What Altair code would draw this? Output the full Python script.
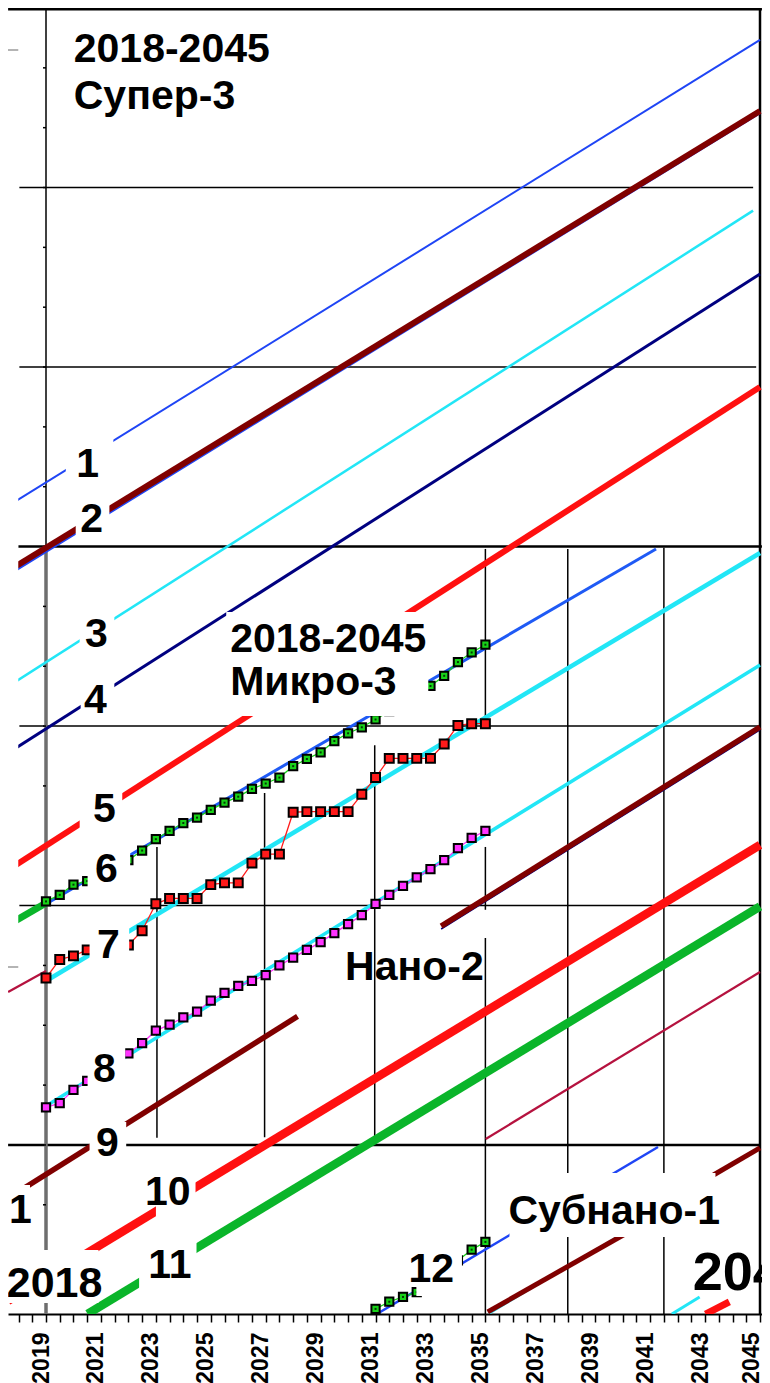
import altair as alt
import pandas as pd

# ---------------- scales (x = year, y = log10 performance, decades) ----------------
X_DOMAIN = [2017.6162, 2045.0727]
Y_DOMAIN = [0.175, 22.0]
W, H = 754, 1306

TICK_YEARS = [2018 + 0.5 * i for i in range(55)]

# ---------------- horizontal grid lines ----------------
GRID_VALUE = [21.98, 19, 16, 13, 10, 7, 3]
GRID_START = [2017.62, 2018.03, 2018.03, 2017.99, 2018.03, 2018.03, 2017.62]
GRID_END = [2045.07, 2044.75, 2044.86, 2045.07, 2045.0, 2045.0, 2045.0]
GRID_KIND = ["major", "minor", "minor", "major", "minor", "minor", "major"]

# ---------------- vertical year lines ----------------
VERT_YEAR = [2019.0, 2019.0, 2023.04, 2026.96, 2030.97, 2035.0, 2035.0, 2035.0, 2038.0, 2041.5, 2045.0]
VERT_TOP = [21.98, 13.0, 7.98, 8.88, 9.68, 12.96, 7.98, 6.46, 12.96, 12.98, 21.98]
VERT_BOTTOM = [13.0, 0.175, 3.12, 3.13, 3.08, 9.99, 6.93, 0.175, 0.175, 0.175, 0.175]
VERT_KIND = ["thin", "axis", "thin", "thin", "thin", "thin", "thin", "thin", "thin", "thin", "border"]

YTICK_VALUES = list(range(1, 22))

# ---------------- trend lines: id, start year, start value, end year, end value ----------------
TREND_ID = ["1", "2b", "2", "3", "4", "5", "gl", "cl", "6", "7", "8", "9n", "9a", "9b",
            "10", "11", "c", "12", "sc", "sa", "sb", "cb", "rb"]
TREND_X1 = [2017.62, 2017.62, 2017.62, 2017.62, 2017.62, 2017.62, 2017.62, 2017.62, 2019.0, 2019.0,
            2019.0, 2033.389, 2017.62, 2033.389, 2017.62, 2020.515, 2035.012, 2031.045, 2035.12,
            2035.084, 2043.306, 2041.791, 2043.017]
TREND_Y1 = [13.678, 12.525, 12.592, 10.662, 9.550, 7.595, 6.676, 5.557, 7.027, 5.740,
            3.651, 6.609, 2.111, 6.656, 0.393, 0.175, 3.100, 0.175, 0.175,
            0.209, 2.498, 0.175, 0.175]
TREND_X2 = [2045.0, 2045.0, 2045.0, 2044.748, 2045.0, 2045.0, 2019.0, 2019.0, 2041.214, 2045.0,
            2045.0, 2045.0, 2028.160, 2045.0, 2045.0, 2045.0, 2045.0, 2041.286, 2040.277,
            2040.277, 2045.0, 2042.801, 2043.883]
TREND_Y2 = [21.466, 20.246, 20.279, 18.613, 17.555, 15.667, 7.044, 5.907, 12.960, 12.893,
            11.021, 9.935, 5.149, 9.985, 8.013, 6.985, 5.891, 2.966, 1.596,
            1.5625, 2.950, 0.460, 0.376]

TREND_STYLE = {
    "1": ("#1f45f5", 2.0), "2b": ("#1f45f5", 2.5), "2": ("#800000", 6.0),
    "3": ("#22e6f6", 2.5), "4": ("#000080", 3.0), "5": ("#ff1010", 6.0),
    "gl": ("#0ab52a", 7.0), "cl": ("#b5123f", 2.2),
    "6": ("#1f5af5", 3.0), "7": ("#22e6f6", 4.5), "8": ("#22e6f6", 3.5),
    "9n": ("#000080", 1.5), "9a": ("#800000", 5.5), "9b": ("#800000", 5.5),
    "10": ("#ff1010", 8.5), "11": ("#0ab52a", 8.5), "c": ("#b5123f", 2.2),
    "12": ("#1f45f5", 2.5), "sc": ("#22e6f6", 2.0), "sa": ("#800000", 5.0),
    "sb": ("#800000", 5.0), "cb": ("#22e6f6", 3.0), "rb": ("#ff1010", 7.0),
}

# ---------------- half-yearly series with square markers ----------------
HALF_YEARS = [2019.0, 2019.5, 2020.0, 2020.5, 2021.0, 2021.5, 2022.0, 2022.5, 2023.0, 2023.5,
              2024.0, 2024.5, 2025.0, 2025.5, 2026.0, 2026.5, 2027.0, 2027.5, 2028.0, 2028.5,
              2029.0, 2029.5, 2030.0, 2030.5, 2031.0, 2031.5, 2032.0, 2032.5, 2033.0, 2033.5,
              2034.0, 2034.5, 2035.0]
GREEN6 = [7.07, 7.18, 7.35, 7.41, 7.53, 7.65, 7.76, 7.92, 8.11, 8.25, 8.38, 8.47, 8.60, 8.72,
          8.82, 8.95, 9.04, 9.14, 9.33, 9.45, 9.56, 9.75, 9.88, 9.98, 10.11, 10.25, 10.39,
          10.53, 10.67, 10.84, 11.07, 11.23, 11.36]
RED7 = [5.79, 6.10, 6.16, 6.26, 6.26, 6.30, 6.34, 6.58, 7.03, 7.12, 7.12, 7.12, 7.35, 7.38,
        7.38, 7.71, 7.86, 7.86, 8.56, 8.57, 8.57, 8.57, 8.57, 8.86, 9.14, 9.46, 9.46, 9.46,
        9.46, 9.70, 10.01, 10.04, 10.04]
MAGENTA8 = [3.63, 3.70, 3.92, 4.07, 4.24, 4.39, 4.53, 4.70, 4.91, 5.01, 5.13, 5.23, 5.41, 5.54,
            5.66, 5.74, 5.84, 6.00, 6.13, 6.26, 6.39, 6.54, 6.69, 6.84, 7.03, 7.18, 7.33, 7.47,
            7.61, 7.76, 7.96, 8.13, 8.25]
GREEN12_YEARS = [2031.0, 2031.5, 2032.0, 2032.5, 2033.0, 2033.5, 2034.0, 2034.5, 2035.0]
GREEN12 = [0.26, 0.38, 0.46, 0.54, 0.72, 0.90, 1.07, 1.25, 1.38]

SERIES_STYLE = {"6": "#19d219", "7": "#ff1a1a", "8": "#ff33ff", "12": "#19d219"}

# ---------------- label backgrounds (white) ----------------
BOX_X1 = [2019.721, 2020.082, 2020.226, 2020.262, 2020.226, 2020.515, 2020.587, 2020.515,
          2020.587, 2023.003, 2022.390, 2032.487, 2017.50, 2017.50, 2025.563, 2035.877]
BOX_X2 = [2021.452, 2021.308, 2021.488, 2021.488, 2021.777, 2022.065, 2022.029, 2021.885,
          2021.921, 2024.445, 2024.481, 2034.146, 2020.911, 2018.417, 2032.920, 2043.378]
BOX_Y1 = [14.815, 13.812, 11.907, 10.804, 9.016, 7.980, 6.693, 4.671, 3.384, 2.548, 1.446,
          1.245, 1.245, 2.331, 11.907, 2.532]
BOX_Y2 = [14.029, 13.110, 11.188, 10.135, 8.230, 7.228, 5.958, 3.885, 2.615, 1.780, 0.610,
          0.476, 0.359, 1.496, 10.169, 1.462]

# left legend frame (its body lies left of the visible area)
FRAME_X = [2017.50, 2017.99]
FRAME_TOP, FRAME_BOTTOM = 21.298, 5.974

# ---------------- texts ----------------
NUM_TEXT = ["1", "2", "3", "4", "5", "6", "7", "8", "9", "10", "11", "12"]
NUM_X = [2020.515, 2020.659, 2020.839, 2020.803, 2021.128, 2021.200, 2021.272, 2021.128,
         2021.236, 2023.436, 2023.508, 2033.028]
NUM_Y = [14.163, 13.244, 11.322, 10.219, 8.397, 7.395, 6.125, 4.052, 2.816, 1.997, 0.777, 0.710]

TITLE_TEXT = ["2018-2045", "Супер-3", "2018-2045", "Микро-3", "Нано-2", "Субнано-1"]
TITLE_X = [2020.010, 2020.010, 2025.708, 2025.708, 2029.891, 2035.841]
TITLE_Y = [21.098, 20.313, 11.238, 10.520, 5.757, 1.679]

LEFT_TEXT = ["1"]
LEFT_X = [2017.6526]
LEFT_Y = [1.696]
BIG_LEFT_TEXT = ["2018"]
BIG_LEFT_X = [2021.0555]
BIG_LEFT_Y = [0.460]
RIGHT_TEXT = ["2045"]
RIGHT_X = [2042.548]
RIGHT_Y = [0.577]

# ================= build =================
XS = alt.Scale(domain=X_DOMAIN, nice=False, zero=False)
YS = alt.Scale(domain=Y_DOMAIN, nice=False, zero=False)
AX = alt.Axis(values=TICK_YEARS,
              labelExpr="datum.value % 2 == 1 ? toString(datum.value) : ''",
              labelAngle=270, labelAlign="right", labelBaseline="middle",
              labelFont="Liberation Sans", labelFontSize=23, labelFontWeight="bold",
              labelColor="black", labelPadding=10,
              labelOffset={"condition": {"test": "datum.value >= 2045", "value": -9}, "value": -5},
              labelOverlap=False, labelFlush=False,
              tickSize=8, tickWidth=1.5, tickColor="black",
              domainColor="black", domainWidth=2, grid=False, title=None)


def X(f):
    return alt.X(f, type="quantitative", scale=XS, axis=AX)


def Y(f):
    return alt.Y(f, type="quantitative", scale=YS, axis=None)


FONT = "Liberation Sans"

grid_df = pd.DataFrame({"v": GRID_VALUE, "x1": GRID_START, "x2": GRID_END, "kind": GRID_KIND})
grid_df["w"] = grid_df["kind"].map({"major": 2.5, "minor": 1.5})
grid = alt.Chart(grid_df).mark_rule(color="black", clip=True).encode(
    x=X("x1"), x2="x2", y=Y("v"), strokeWidth=alt.StrokeWidth("w:Q", scale=None))

vert_df = pd.DataFrame({"x": VERT_YEAR, "t": VERT_TOP, "b": VERT_BOTTOM, "kind": VERT_KIND})
vert_df["w"] = vert_df["kind"].map({"thin": 1.5, "axis": 3.5, "border": 2.5})
vert_df["c"] = vert_df["kind"].map({"thin": "black", "axis": "#6e6e6e", "border": "black"})
verts = alt.Chart(vert_df).mark_rule(clip=True).encode(
    x=X("x"), y=Y("t"), y2="b",
    strokeWidth=alt.StrokeWidth("w:Q", scale=None), color=alt.Color("c:N", scale=None))

ytick_df = pd.DataFrame({"v": YTICK_VALUES})
ytick_df["x1"] = 2018.89
ytick_df["x2"] = 2019.0
yticks = alt.Chart(ytick_df).mark_rule(color="black", strokeWidth=1.5, clip=True).encode(
    x=X("x1"), x2="x2", y=Y("v"))

trend_df = pd.DataFrame({"id": TREND_ID, "x1": TREND_X1, "y1": TREND_Y1, "x2": TREND_X2, "y2": TREND_Y2})
trend_df["c"] = trend_df["id"].map(lambda k: TREND_STYLE[k][0])
trend_df["w"] = trend_df["id"].map(lambda k: TREND_STYLE[k][1])
trends = alt.Chart(trend_df).mark_rule(clip=True).encode(
    x=X("x1"), x2="x2", y=Y("y1"), y2="y2",
    color=alt.Color("c:N", scale=None), strokeWidth=alt.StrokeWidth("w:Q", scale=None))

rows = []
for sid, years, vals in [("6", HALF_YEARS, GREEN6), ("7", HALF_YEARS, RED7),
                         ("8", HALF_YEARS, MAGENTA8), ("12", GREEN12_YEARS, GREEN12)]:
    for yr, v in zip(years, vals):
        rows.append({"s": sid, "year": yr, "v": v, "c": SERIES_STYLE[sid]})
ser_df = pd.DataFrame(rows)

ser_lines = alt.Chart(ser_df).mark_line(strokeWidth=1.3, clip=True).encode(
    x=X("year"), y=Y("v"), detail="s:N", color=alt.Color("c:N", scale=None))
ser_pts_small = alt.Chart(ser_df[ser_df["s"] != "7"]).mark_square(
    size=68, stroke="black", strokeWidth=2, opacity=1, clip=True).encode(
    x=X("year"), y=Y("v"), fill=alt.Fill("c:N", scale=None))
ser_pts_red = alt.Chart(ser_df[ser_df["s"] == "7"]).mark_square(
    size=80, stroke="black", strokeWidth=2, opacity=1, clip=True).encode(
    x=X("year"), y=Y("v"), fill=alt.Fill("c:N", scale=None))
green_dots = alt.Chart(ser_df[ser_df["c"] == "#19d219"]).mark_square(
    size=4, color="#063806", opacity=1, clip=True).encode(x=X("year"), y=Y("v"))

box_df = pd.DataFrame({"x1": BOX_X1, "x2": BOX_X2, "y1": BOX_Y1, "y2": BOX_Y2})
boxes = alt.Chart(box_df).mark_rect(color="white", opacity=1, clip=True).encode(
    x=X("x1"), x2="x2", y=Y("y1"), y2="y2")

frame_df = pd.DataFrame({"x1": [FRAME_X[0]], "x2": [FRAME_X[1]], "y1": [FRAME_TOP], "y2": [FRAME_BOTTOM]})
frame_fill = alt.Chart(frame_df).mark_rect(color="white", opacity=1, clip=True).encode(
    x=X("x1"), x2="x2", y=Y("y1"), y2="y2")
frame_edges_df = pd.DataFrame({"x1": [FRAME_X[0]] * 2, "x2": [FRAME_X[1]] * 2,
                               "v": [FRAME_TOP, FRAME_BOTTOM]})
frame_edges = alt.Chart(frame_edges_df).mark_rule(color="#b4b4b4", strokeWidth=2, clip=True).encode(
    x=X("x1"), x2="x2", y=Y("v"))

num_df = pd.DataFrame({"t": NUM_TEXT, "x": NUM_X, "v": NUM_Y})
nums = alt.Chart(num_df).mark_text(font=FONT, fontWeight="bold", fontSize=41, align="center",
                                   baseline="alphabetic", color="black", clip=True).encode(
    x=X("x"), y=Y("v"), text="t:N")

title_df = pd.DataFrame({"t": TITLE_TEXT, "x": TITLE_X, "v": TITLE_Y})
titles = alt.Chart(title_df).mark_text(font=FONT, fontWeight="bold", fontSize=41, align="left",
                                       baseline="alphabetic", color="black", clip=True).encode(
    x=X("x"), y=Y("v"), text="t:N")

left_df = pd.DataFrame({"t": LEFT_TEXT, "x": LEFT_X, "v": LEFT_Y})
left_txt = alt.Chart(left_df).mark_text(font=FONT, fontWeight="bold", fontSize=41, align="left",
                                        baseline="alphabetic", color="black", clip=True).encode(
    x=X("x"), y=Y("v"), text="t:N")

bigl_df = pd.DataFrame({"t": BIG_LEFT_TEXT, "x": BIG_LEFT_X, "v": BIG_LEFT_Y})
big_left = alt.Chart(bigl_df).mark_text(font=FONT, fontWeight="bold", fontSize=43, align="right",
                                        baseline="alphabetic", color="black", clip=True).encode(
    x=X("x"), y=Y("v"), text="t:N")

right_df = pd.DataFrame({"t": RIGHT_TEXT, "x": RIGHT_X, "v": RIGHT_Y})
rights = alt.Chart(right_df).mark_text(font=FONT, fontWeight="bold", fontSize=54, align="left",
                                       baseline="alphabetic", color="black", clip=True).encode(
    x=X("x"), y=Y("v"), text="t:N")

chart = alt.layer(
    grid, verts, yticks, trends, ser_lines, ser_pts_small, ser_pts_red, green_dots,
    boxes, frame_fill, frame_edges, nums, titles, left_txt, big_left, rights
).properties(
    width=W, height=H, background="white",
    autosize=alt.AutoSizeParams(type="none"),
    padding={"left": 0, "top": 0, "right": 0, "bottom": 69},
).configure_view(stroke=None)

chart.save("out.html", embed_options={"renderer": "svg", "actions": False})
